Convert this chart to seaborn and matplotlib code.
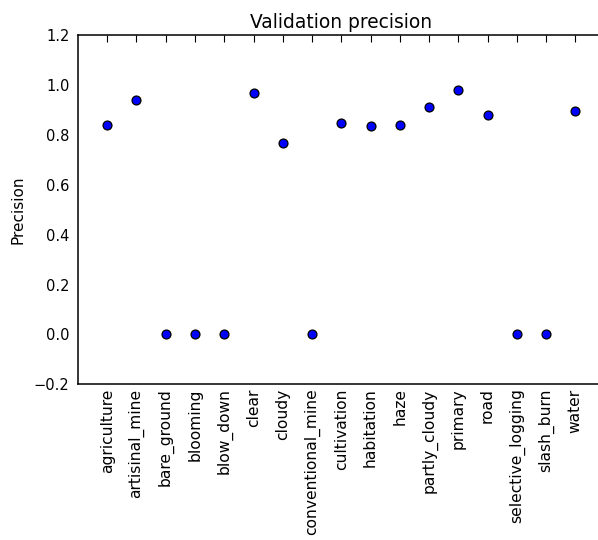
import matplotlib
matplotlib.use("Agg")
import matplotlib.pyplot as plt
import seaborn as sns
import pandas as pd

# labels and validation precision per label
labels = ["agriculture", "artisinal_mine", "bare_ground", "blooming", "blow_down",
          "clear", "cloudy", "conventional_mine", "cultivation", "habitation",
          "haze", "partly_cloudy", "primary", "road", "selective_logging",
          "slash_burn", "water"]
precision = [0.84, 0.94, 0.0, 0.0, 0.0,
             0.97, 0.77, 0.0, 0.85, 0.836,
             0.84, 0.913, 0.98, 0.88, 0.0,
             0.0, 0.895]
yticks = [-0.2, 0.0, 0.2, 0.4, 0.6, 0.8, 1.0, 1.2]

df = pd.DataFrame({"label": labels, "precision": precision})

sns.set_style("white")
plt.rcParams["font.family"] = ["DejaVu Sans"]
plt.rcParams["text.color"] = "black"
plt.rcParams["axes.labelcolor"] = "black"

fig = plt.figure(figsize=(5.98, 5.40), dpi=100)
ax = fig.add_axes([0.1304, 0.2883, 0.8806, 0.6463])   # right spine runs off the canvas like the original

sns.stripplot(data=df, x="label", y="precision", jitter=False, color="blue",
              edgecolor="black", linewidth=0.9, size=6.4, ax=ax, zorder=3)

ax.set_xlim(-1, len(labels))
ax.set_ylim(-0.2, 1.2)
ax.set_yticks(yticks)
ax.set_yticklabels([f"{t:.1f}".replace("-", "\u2212") for t in yticks])
ax.set_xticks(range(len(labels)))
ax.set_xticklabels(labels, rotation=90)
ax.tick_params(direction="in", length=5, width=0.8, top=True, right=True,
               colors="black")
ax.tick_params(axis="y", labelsize=10.5, pad=6)
ax.tick_params(axis="x", labelsize=11.2, pad=3)
for s in ax.spines.values():
    s.set_visible(True)
    s.set_color("black")
    s.set_linewidth(1.1)

ax.set_xlabel("")
ax.set_ylabel("Precision", fontsize=11, labelpad=6, color="black")
ax.set_title("Validation precision", fontsize=13.4, pad=5, color="black")

fig.savefig("out.png", dpi=100, facecolor="white")
